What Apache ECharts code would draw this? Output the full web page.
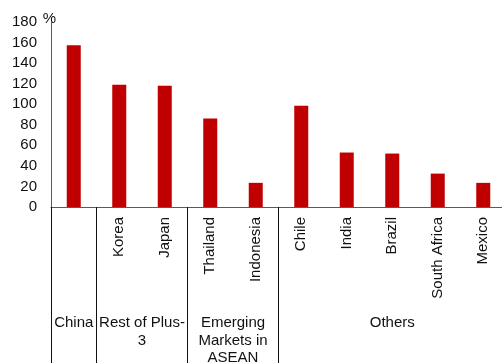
<!DOCTYPE html>
<html>
<head>
<meta charset="utf-8">
<style>html,body{margin:0;padding:0;background:#fff}#c{width:502px;height:363px}</style>
<script src="https://cdn.jsdelivr.net/npm/echarts@6/dist/echarts.min.js"></script>
</head>
<body>
<div id="c"></div>
<script>
const categories = ['China','Korea','Japan','Thailand','Indonesia','Chile','India','Brazil','South Africa','Mexico'];
const values = [157.5, 119, 118, 86, 23.5, 98.5, 53, 52, 32.5, 23.5];
const groupNames = ['China','Rest of Plus-\n3','Emerging\nMarkets in\nASEAN','Others'];
const groupSizes = [1, 2, 2, 5];
const yMin = 0, yMax = 180, yStep = 20;

const bounds = [0];
groupSizes.forEach(s => bounds.push(bounds[bounds.length - 1] + s));
const centers = groupSizes.map((s, i) => bounds[i] + s / 2);
// categories that form a group by themselves get no rotated label
const soloIdx = new Set();
groupSizes.forEach((s, i) => { if (s === 1) soloIdx.add(bounds[i]); });

const font = 'Liberation Sans, Arial, sans-serif';
const chart = echarts.init(document.getElementById('c'));
chart.setOption({
  animation: false,
  grid: { left: 51, top: 22, bottom: 156, width: 455, containLabel: false, outerBoundsMode: 'none' },
  xAxis: [{
    type: 'category',
    data: categories,
    position: 'bottom',
    axisLine: { show: true, lineStyle: { color: '#5a5a5a', width: 1 } },
    axisTick: { show: false },
    axisLabel: { rotate: 90, margin: 10, fontSize: 15, color: '#111', fontFamily: font, interval: 0,
      formatter: (v, i) => soloIdx.has(i) ? '' : v }
  }, {
    type: 'value',
    min: 0, max: categories.length,
    position: 'bottom',
    axisLine: { show: false },
    splitLine: { show: false },
    axisTick: { show: true, customValues: bounds, length: 160, inside: false, lineStyle: { color: '#111', width: 1 } },
    axisLabel: {
      customValues: centers,
      margin: 107,
      fontSize: 15,
      lineHeight: 17.7,
      color: '#111',
      fontFamily: font,
      align: 'center',
      formatter: v => { const i = centers.findIndex(c => Math.abs(c - v) < 1e-6); return i >= 0 ? groupNames[i] : ''; }
    }
  }],
  yAxis: {
    type: 'value',
    min: yMin, max: yMax, interval: yStep,
    name: '%',
    nameLocation: 'end',
    nameGap: 3,
    nameMoveOverlap: false,
    nameTextStyle: { fontSize: 15, color: '#111', fontFamily: font, align: 'center', verticalAlign: 'middle', padding: [0, 3, 0, 0] },
    axisLine: { show: true, lineStyle: { color: '#5a5a5a', width: 1 } },
    axisTick: { show: false },
    splitLine: { show: false },
    axisLabel: { margin: 14, fontSize: 15, color: '#111', fontFamily: font }
  },
  series: [{
    type: 'bar',
    data: values,
    xAxisIndex: 0,
    barWidth: 14,
    itemStyle: { color: '#C00000' }
  }]
});
</script>
</body>
</html>
